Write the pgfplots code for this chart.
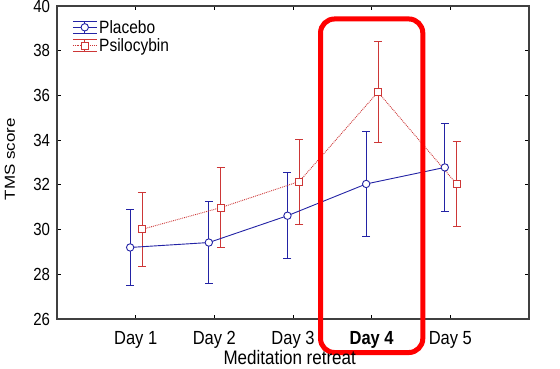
\documentclass[border=0pt]{standalone}
\usepackage{graphicx}
\usepackage{pgfplots}
\pgfplotsset{compat=1.18}
\usepackage{fontspec}
\setmainfont{Liberation Sans}
\definecolor{plblue}{RGB}{35,35,165}
\definecolor{psred}{RGB}{205,55,55}
\pgfplotstableread{
x y e
0.93 29.20 1.71
1.93 29.42 1.84
2.93 30.62 1.93
3.93 32.04 2.33
4.93 32.78 1.95
}\placebo
\pgfplotstableread{
x y e
1.08 30.01 1.67
2.08 30.98 1.78
3.08 32.15 1.90
4.08 36.15 2.26
5.08 32.04 1.90
}\psilo
\begin{document}
\begin{tikzpicture}
\begin{axis}[
  scale only axis, width=472pt, height=313pt,
  xmin=0, xmax=6, ymin=26, ymax=40,
  xtick={1,2,3,4,5},
  xticklabels={Day 1, Day 2, Day 3, \textbf{Day 4}, Day 5},
  ytick={26,28,...,40},
  tick align=inside, major tick length=4pt,
  tick style={black, line width=0.8pt},
  axis line style={black!75, line width=1.1pt},
  /pgf/number format/assume math mode=true,
  xticklabel style={font=\fontsize{16.5}{18}\selectfont, anchor=base, yshift=-26pt, yscale=1.15},
  yticklabel style={font=\fontsize{15}{17}\selectfont, anchor=east, xshift=-3.5pt, yscale=1.17},
  every axis x label/.style={at={(axis description cs:0.493,-0.1246)}, anchor=center},
  every axis y label/.style={at={(axis description cs:-0.0996,0.511)}, anchor=center, rotate=90},
  xlabel={\scalebox{1}[1.15]{Meditation retreat}},
  ylabel={\scalebox{1.17}[1]{TMS score}},
  xlabel style={font=\fontsize{17}{18}\selectfont},
  ylabel style={font=\fontsize{14.5}{16}\selectfont},
  clip=false,
  legend style={at={(axis description cs:0.032,0.962)}, anchor=north west, draw=none, fill=none,
    inner sep=0pt, font=\fontsize{15.5}{17}\selectfont, row sep=0pt},
  legend cell align=left,
  legend image code/.code={
    \draw[#1, solid, mark=none] (12pt,-6pt) -- (12pt,6pt) (0pt,6pt) -- (24pt,6pt) (0pt,-6pt) -- (24pt,-6pt);
    \draw[#1, mark repeat=2, mark phase=2] plot coordinates {(0pt,0pt) (12pt,0pt) (24pt,0pt)};
  },
]
% error bars first, markers drawn on top afterwards
\addplot[plblue, draw=none, mark=none, forget plot,
  error bars/.cd, y dir=both, y explicit,
  error bar style={line width=0.9pt, solid, draw=plblue},
  error mark options={rotate=90, mark size=4pt, line width=0.9pt, draw=plblue}]
  table[x=x, y=y, y error=e] {\placebo};
\addplot[psred, draw=none, mark=none, forget plot,
  error bars/.cd, y dir=both, y explicit,
  error bar style={line width=0.9pt, solid, draw=psred},
  error mark options={rotate=90, mark size=4pt, line width=0.9pt, draw=psred}]
  table[x=x, y=y, y error=e] {\psilo};
\addplot[plblue, line width=0.9pt, mark=*, mark size=3.7pt, mark options={fill=white, draw=plblue, solid}]
  table[x=x, y=y] {\placebo};
\addlegendentry{\scalebox{1}[1.15]{Placebo}}
\addplot[psred, densely dotted, line width=0.9pt, mark=square*, mark size=3.5pt, mark options={fill=white, draw=psred, solid}]
  table[x=x, y=y] {\psilo};
\addlegendentry{\scalebox{1}[1.15]{Psilocybin}}
\draw[red, line width=5pt, rounded corners=14pt] (axis cs:3.35,39.42) rectangle (axis cs:4.65,24.5);
\end{axis}
\pgfresetboundingbox
\path[use as bounding box] (-57pt,-50pt) rectangle (503pt,319pt);
\end{tikzpicture}
\end{document}
